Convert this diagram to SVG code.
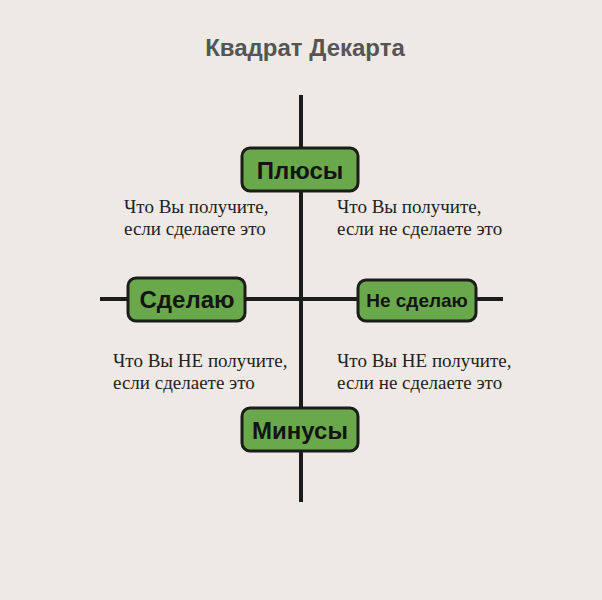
<svg xmlns="http://www.w3.org/2000/svg" width="602" height="600" viewBox="0 0 602 600">
<style>
.n rect{fill:#69a84b;stroke:#1c1c1a;stroke-width:3}
.n text{font-family:"Liberation Sans",Arial,sans-serif;font-weight:bold;fill:#141414;text-anchor:middle}
.d{font-family:"Liberation Serif","Times New Roman",serif;font-size:19px;fill:#222}
</style>
<rect width="602" height="600" fill="#efe9e6"/>
<text x="305" y="56" font-family="Liberation Sans,Arial,sans-serif" font-weight="bold" font-size="24" fill="#555" text-anchor="middle">Квадрат Декарта</text>
<g id="connectors" stroke="#1c1c1a" stroke-width="4">
<line x1="301" y1="95" x2="301" y2="502"/>
<line x1="100" y1="299" x2="503" y2="299"/>
</g>
<g id="plus" class="n"><rect x="242" y="148" width="116" height="43" rx="8"/><text x="300" y="179" font-size="24">Плюсы</text></g>
<g id="do" class="n"><rect x="128" y="278" width="117" height="43" rx="8"/><text x="187" y="308" font-size="24">Сделаю</text></g>
<g id="notdo" class="n"><rect x="358" y="280" width="118" height="41" rx="8"/><text x="417" y="307" font-size="19">Не сделаю</text></g>
<g id="minus" class="n"><rect x="242" y="408" width="116" height="43" rx="8"/><text x="300" y="439" font-size="24">Минусы</text></g>
<g id="labels" class="d">
<text x="124" y="213">Что Вы получите,</text>
<text x="124" y="235">если сделаете это</text>
<text x="337" y="213">Что Вы получите,</text>
<text x="337" y="235">если не сделаете это</text>
<text x="113" y="367">Что Вы НЕ получите,</text>
<text x="113" y="389">если сделаете это</text>
<text x="337" y="367">Что Вы НЕ получите,</text>
<text x="337" y="389">если не сделаете это</text>
</g>
</svg>
